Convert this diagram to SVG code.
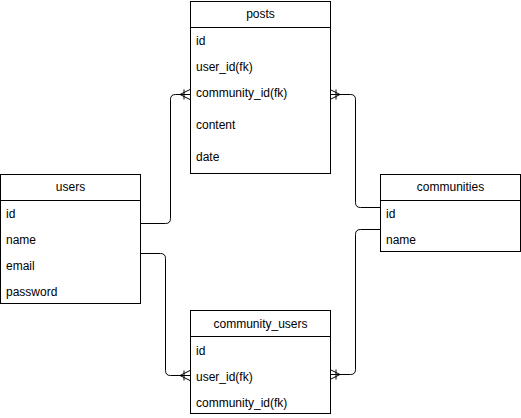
<svg xmlns="http://www.w3.org/2000/svg" width="521" height="418" viewBox="0 0 521 418">
<style>
.box{fill:#fff;stroke:#000;stroke-width:1}
.sep{stroke:#000;stroke-width:1}
text{font-family:"Liberation Sans",Arial,Helvetica,sans-serif;font-size:12px;fill:#000}
.h{text-anchor:middle}
.c{fill:none;stroke:#000;stroke-width:1}
</style>
<defs>
<marker id="many" markerWidth="12" markerHeight="12" refX="10" refY="6" orient="auto" markerUnits="userSpaceOnUse">
<path d="M0,6 L10,1 M0,6 L10,11 M0,6 L10,6 M4,1 L4,11" fill="none" stroke="#000" stroke-width="1"/>
</marker>
</defs>
<rect width="521" height="418" fill="#fff"/>
<g id="connectors">
<path class="c" d="M140,223.5 H165.5 Q170.5,223.5 170.5,218.5 V99.5 Q170.5,94.5 175.5,94.5 H190" marker-end="url(#many)"/>
<path class="c" d="M140,253.5 H160.5 Q165.5,253.5 165.5,258.5 V370.5 Q165.5,375.5 170.5,375.5 H190" marker-end="url(#many)"/>
<path class="c" d="M380,207.5 H360.5 Q355.5,207.5 355.5,202.5 V99.5 Q355.5,94.5 350.5,94.5 H330" marker-end="url(#many)"/>
<path class="c" d="M380,229.5 H360.5 Q355.5,229.5 355.5,234.5 V369.5 Q355.5,374.5 350.5,374.5 H330" marker-end="url(#many)"/>
</g>
<g id="posts">
<rect class="box" x="190.5" y="1.5" width="140" height="172"/>
<line class="sep" x1="190.5" y1="27.5" x2="330.5" y2="27.5"/>
<text class="h" x="260.5" y="18">posts</text>
<text x="196" y="45">id</text>
<text x="196" y="71">user_id(fk)</text>
<text x="196" y="97">community_id(fk)</text>
<text x="196" y="129">content</text>
<text x="196" y="161">date</text>
</g>
<g id="users">
<rect class="box" x="0.5" y="174.5" width="140" height="129"/>
<line class="sep" x1="0.5" y1="200.5" x2="140.5" y2="200.5"/>
<text class="h" x="70.5" y="191">users</text>
<text x="6" y="218">id</text>
<text x="6" y="244">name</text>
<text x="6" y="270">email</text>
<text x="6" y="296">password</text>
</g>
<g id="communities">
<rect class="box" x="380.5" y="174.5" width="140" height="77"/>
<line class="sep" x1="380.5" y1="200.5" x2="520.5" y2="200.5"/>
<text class="h" x="450.5" y="191">communities</text>
<text x="386" y="218">id</text>
<text x="386" y="244">name</text>
</g>
<g id="community_users">
<rect class="box" x="190.5" y="310.5" width="140" height="103"/>
<line class="sep" x1="190.5" y1="336.5" x2="330.5" y2="336.5"/>
<text class="h" x="260.5" y="328">community_users</text>
<text x="196" y="355">id</text>
<text x="196" y="381">user_id(fk)</text>
<text x="196" y="407">community_id(fk)</text>
</g>
</svg>
